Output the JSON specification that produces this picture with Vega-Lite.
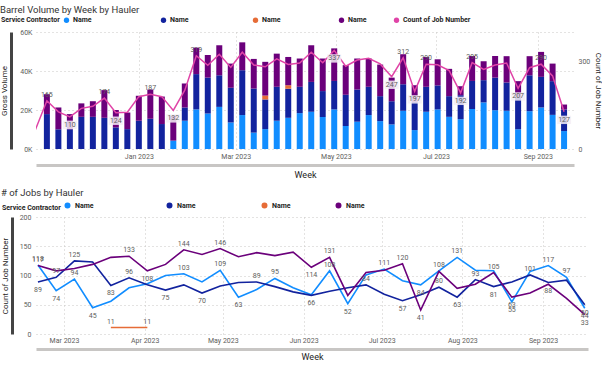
{
  "$schema": "https://vega.github.io/schema/vega-lite/v6.json",
  "padding": {"left": 0, "top": 5, "right": 0, "bottom": 0},
  "background": "white",
  "spacing": 8,
  "resolve": {"scale": {"color": "independent"}, "legend": {"color": "independent"}},
  "datasets": {
    "vol": [
      {"week":"2022-11-06","hauler":"H2","vol":17900},{"week":"2022-11-06","hauler":"H4","vol":10200},
      {"week":"2022-11-13","hauler":"H2","vol":10100},{"week":"2022-11-13","hauler":"H4","vol":11200},
      {"week":"2022-11-20","hauler":"H2","vol":10100},{"week":"2022-11-20","hauler":"H4","vol":7800},
      {"week":"2022-11-27","hauler":"H2","vol":16500},{"week":"2022-11-27","hauler":"H4","vol":6900},
      {"week":"2022-12-04","hauler":"H2","vol":16500},{"week":"2022-12-04","hauler":"H4","vol":8000},
      {"week":"2022-12-11","hauler":"H2","vol":16000},{"week":"2022-12-11","hauler":"H4","vol":14200},
      {"week":"2022-12-18","hauler":"H2","vol":11100},{"week":"2022-12-18","hauler":"H4","vol":8900},
      {"week":"2022-12-25","hauler":"H2","vol":10200},{"week":"2022-12-25","hauler":"H4","vol":8500},
      {"week":"2023-01-01","hauler":"H2","vol":14500},{"week":"2023-01-01","hauler":"H4","vol":12800},
      {"week":"2023-01-08","hauler":"H2","vol":15500},{"week":"2023-01-08","hauler":"H4","vol":15000},
      {"week":"2023-01-15","hauler":"H2","vol":12800},{"week":"2023-01-15","hauler":"H4","vol":14100},
      {"week":"2023-01-22","hauler":"H1","vol":4300},{"week":"2023-01-22","hauler":"H4","vol":12700},
      {"week":"2023-01-29","hauler":"H1","vol":14500},{"week":"2023-01-29","hauler":"H2","vol":6800},{"week":"2023-01-29","hauler":"H4","vol":12300},
      {"week":"2023-02-05","hauler":"H1","vol":20300},{"week":"2023-02-05","hauler":"H2","vol":18100},{"week":"2023-02-05","hauler":"H4","vol":13600},
      {"week":"2023-02-12","hauler":"H1","vol":18200},{"week":"2023-02-12","hauler":"H2","vol":18400},{"week":"2023-02-12","hauler":"H4","vol":11600},
      {"week":"2023-02-19","hauler":"H1","vol":21600},{"week":"2023-02-19","hauler":"H2","vol":16200},{"week":"2023-02-19","hauler":"H4","vol":15400},
      {"week":"2023-02-26","hauler":"H1","vol":13600},{"week":"2023-02-26","hauler":"H2","vol":17800},{"week":"2023-02-26","hauler":"H4","vol":12400},
      {"week":"2023-03-05","hauler":"H1","vol":17400},{"week":"2023-03-05","hauler":"H2","vol":23000},{"week":"2023-03-05","hauler":"H4","vol":14300},
      {"week":"2023-03-12","hauler":"H1","vol":8400},{"week":"2023-03-12","hauler":"H2","vol":22600},{"week":"2023-03-12","hauler":"H4","vol":15200},
      {"week":"2023-03-19","hauler":"H1","vol":10200},{"week":"2023-03-19","hauler":"H2","vol":15200},{"week":"2023-03-19","hauler":"H3","vol":2000},{"week":"2023-03-19","hauler":"H4","vol":17300},
      {"week":"2023-03-26","hauler":"H1","vol":14500},{"week":"2023-03-26","hauler":"H2","vol":17400},{"week":"2023-03-26","hauler":"H4","vol":17000},
      {"week":"2023-04-02","hauler":"H1","vol":16000},{"week":"2023-04-02","hauler":"H2","vol":14900},{"week":"2023-04-02","hauler":"H3","vol":1800},{"week":"2023-04-02","hauler":"H4","vol":14500},
      {"week":"2023-04-09","hauler":"H1","vol":18400},{"week":"2023-04-09","hauler":"H2","vol":13500},{"week":"2023-04-09","hauler":"H4","vol":14500},
      {"week":"2023-04-16","hauler":"H1","vol":19100},{"week":"2023-04-16","hauler":"H2","vol":15300},{"week":"2023-04-16","hauler":"H4","vol":18800},
      {"week":"2023-04-23","hauler":"H1","vol":16400},{"week":"2023-04-23","hauler":"H2","vol":13300},{"week":"2023-04-23","hauler":"H4","vol":16700},
      {"week":"2023-04-30","hauler":"H1","vol":20300},{"week":"2023-04-30","hauler":"H2","vol":14600},{"week":"2023-04-30","hauler":"H4","vol":16700},
      {"week":"2023-05-07","hauler":"H1","vol":11800},{"week":"2023-05-07","hauler":"H2","vol":16000},{"week":"2023-05-07","hauler":"H4","vol":15200},
      {"week":"2023-05-14","hauler":"H1","vol":14000},{"week":"2023-05-14","hauler":"H2","vol":16500},{"week":"2023-05-14","hauler":"H4","vol":15900},
      {"week":"2023-05-21","hauler":"H1","vol":17400},{"week":"2023-05-21","hauler":"H2","vol":14500},{"week":"2023-05-21","hauler":"H4","vol":14500},
      {"week":"2023-05-28","hauler":"H1","vol":14300},{"week":"2023-05-28","hauler":"H2","vol":12800},{"week":"2023-05-28","hauler":"H4","vol":16200},
      {"week":"2023-06-04","hauler":"H1","vol":12600},{"week":"2023-06-04","hauler":"H2","vol":11900},{"week":"2023-06-04","hauler":"H4","vol":12100},
      {"week":"2023-06-11","hauler":"H1","vol":19600},{"week":"2023-06-11","hauler":"H2","vol":13600},{"week":"2023-06-11","hauler":"H4","vol":15400},
      {"week":"2023-06-18","hauler":"H1","vol":9700},{"week":"2023-06-18","hauler":"H2","vol":14500},{"week":"2023-06-18","hauler":"H4","vol":8500},
      {"week":"2023-06-25","hauler":"H1","vol":19100},{"week":"2023-06-25","hauler":"H2","vol":12800},{"week":"2023-06-25","hauler":"H4","vol":15300},
      {"week":"2023-07-02","hauler":"H1","vol":20300},{"week":"2023-07-02","hauler":"H2","vol":12300},{"week":"2023-07-02","hauler":"H4","vol":13400},
      {"week":"2023-07-09","hauler":"H1","vol":16500},{"week":"2023-07-09","hauler":"H2","vol":10600},{"week":"2023-07-09","hauler":"H4","vol":14000},
      {"week":"2023-07-16","hauler":"H1","vol":15300},{"week":"2023-07-16","hauler":"H2","vol":12300},{"week":"2023-07-16","hauler":"H4","vol":4600},
      {"week":"2023-07-23","hauler":"H1","vol":20500},{"week":"2023-07-23","hauler":"H2","vol":14400},{"week":"2023-07-23","hauler":"H4","vol":12800},
      {"week":"2023-07-30","hauler":"H1","vol":23900},{"week":"2023-07-30","hauler":"H2","vol":11400},{"week":"2023-07-30","hauler":"H4","vol":9700},
      {"week":"2023-08-06","hauler":"H1","vol":19900},{"week":"2023-08-06","hauler":"H2","vol":16700},{"week":"2023-08-06","hauler":"H4","vol":11100},
      {"week":"2023-08-13","hauler":"H1","vol":19600},{"week":"2023-08-13","hauler":"H2","vol":14500},{"week":"2023-08-13","hauler":"H4","vol":13500},
      {"week":"2023-08-20","hauler":"H1","vol":10100},{"week":"2023-08-20","hauler":"H2","vol":16300},{"week":"2023-08-20","hauler":"H4","vol":8400},
      {"week":"2023-08-27","hauler":"H1","vol":19400},{"week":"2023-08-27","hauler":"H2","vol":18400},{"week":"2023-08-27","hauler":"H4","vol":9800},
      {"week":"2023-09-03","hauler":"H1","vol":21300},{"week":"2023-09-03","hauler":"H2","vol":15700},{"week":"2023-09-03","hauler":"H4","vol":12800},
      {"week":"2023-09-10","hauler":"H1","vol":17500},{"week":"2023-09-10","hauler":"H2","vol":17300},{"week":"2023-09-10","hauler":"H4","vol":9000},
      {"week":"2023-09-17","hauler":"H1","vol":9200},{"week":"2023-09-17","hauler":"H2","vol":11100},{"week":"2023-09-17","hauler":"H4","vol":2500}
    ],
    "cnt": [
      {"week":"2022-10-30","count":66,"show":0},
      {"week":"2022-11-06","count":165,"show":1},
      {"week":"2022-11-13","count":127,"show":0},
      {"week":"2022-11-20","count":110,"show":1},
      {"week":"2022-11-27","count":139,"show":0},
      {"week":"2022-12-04","count":146,"show":0},
      {"week":"2022-12-11","count":174,"show":1},
      {"week":"2022-12-18","count":124,"show":1},
      {"week":"2022-12-25","count":126,"show":0},
      {"week":"2023-01-01","count":179,"show":0},
      {"week":"2023-01-08","count":187,"show":1},
      {"week":"2023-01-15","count":179,"show":0},
      {"week":"2023-01-22","count":132,"show":1},
      {"week":"2023-01-29","count":201,"show":0},
      {"week":"2023-02-05","count":319,"show":1},
      {"week":"2023-02-12","count":286,"show":0},
      {"week":"2023-02-19","count":324,"show":0},
      {"week":"2023-02-26","count":279,"show":0},
      {"week":"2023-03-05","count":331,"show":0},
      {"week":"2023-03-12","count":287,"show":0},
      {"week":"2023-03-19","count":281,"show":0},
      {"week":"2023-03-26","count":308,"show":0},
      {"week":"2023-04-02","count":289,"show":0},
      {"week":"2023-04-09","count":294,"show":0},
      {"week":"2023-04-16","count":331,"show":0},
      {"week":"2023-04-23","count":295,"show":0},
      {"week":"2023-04-30","count":337,"show":1},
      {"week":"2023-05-07","count":283,"show":0},
      {"week":"2023-05-14","count":304,"show":0},
      {"week":"2023-05-21","count":310,"show":0},
      {"week":"2023-05-28","count":291,"show":0},
      {"week":"2023-06-04","count":247,"show":1},
      {"week":"2023-06-11","count":312,"show":1},
      {"week":"2023-06-18","count":197,"show":1},
      {"week":"2023-06-25","count":290,"show":1},
      {"week":"2023-07-02","count":288,"show":0},
      {"week":"2023-07-09","count":268,"show":0},
      {"week":"2023-07-16","count":192,"show":1},
      {"week":"2023-07-23","count":295,"show":1},
      {"week":"2023-07-30","count":272,"show":0},
      {"week":"2023-08-06","count":287,"show":0},
      {"week":"2023-08-13","count":294,"show":0},
      {"week":"2023-08-20","count":207,"show":1},
      {"week":"2023-08-27","count":278,"show":0},
      {"week":"2023-09-03","count":290,"show":1},
      {"week":"2023-09-10","count":250,"show":0},
      {"week":"2023-09-17","count":127,"show":1}
    ],
    "jobs": [
      {"week":"2023-02-19","hauler":"H1","jobs":118,"show":1},{"week":"2023-02-26","hauler":"H1","jobs":74,"show":1},{"week":"2023-03-05","hauler":"H1","jobs":94,"show":1},{"week":"2023-03-12","hauler":"H1","jobs":45,"show":1},{"week":"2023-03-19","hauler":"H1","jobs":56,"show":0},{"week":"2023-03-26","hauler":"H1","jobs":79,"show":0},{"week":"2023-04-02","hauler":"H1","jobs":86,"show":0},{"week":"2023-04-09","hauler":"H1","jobs":100,"show":0},{"week":"2023-04-16","hauler":"H1","jobs":103,"show":1},{"week":"2023-04-23","hauler":"H1","jobs":89,"show":0},{"week":"2023-04-30","hauler":"H1","jobs":109,"show":1},{"week":"2023-05-07","hauler":"H1","jobs":63,"show":1},{"week":"2023-05-14","hauler":"H1","jobs":76,"show":0},{"week":"2023-05-21","hauler":"H1","jobs":95,"show":1},{"week":"2023-05-28","hauler":"H1","jobs":79,"show":0},{"week":"2023-06-04","hauler":"H1","jobs":67,"show":0},{"week":"2023-06-11","hauler":"H1","jobs":108,"show":1},{"week":"2023-06-18","hauler":"H1","jobs":52,"show":1},{"week":"2023-06-25","hauler":"H1","jobs":101,"show":0},{"week":"2023-07-02","hauler":"H1","jobs":111,"show":1},{"week":"2023-07-09","hauler":"H1","jobs":91,"show":0},{"week":"2023-07-16","hauler":"H1","jobs":84,"show":1},{"week":"2023-07-23","hauler":"H1","jobs":108,"show":1},{"week":"2023-07-30","hauler":"H1","jobs":131,"show":1},{"week":"2023-08-06","hauler":"H1","jobs":109,"show":0},{"week":"2023-08-13","hauler":"H1","jobs":108,"show":0},{"week":"2023-08-20","hauler":"H1","jobs":55,"show":1},{"week":"2023-08-27","hauler":"H1","jobs":107,"show":0},{"week":"2023-09-03","hauler":"H1","jobs":117,"show":1},{"week":"2023-09-10","hauler":"H1","jobs":97,"show":1},{"week":"2023-09-17","hauler":"H1","jobs":44,"show":1},
      {"week":"2023-02-19","hauler":"H2","jobs":89,"show":1},{"week":"2023-02-26","hauler":"H2","jobs":97,"show":1},{"week":"2023-03-05","hauler":"H2","jobs":125,"show":1},{"week":"2023-03-12","hauler":"H2","jobs":123,"show":0},{"week":"2023-03-19","hauler":"H2","jobs":83,"show":1},{"week":"2023-03-26","hauler":"H2","jobs":96,"show":1},{"week":"2023-04-02","hauler":"H2","jobs":84,"show":0},{"week":"2023-04-09","hauler":"H2","jobs":75,"show":1},{"week":"2023-04-16","hauler":"H2","jobs":84,"show":0},{"week":"2023-04-23","hauler":"H2","jobs":70,"show":1},{"week":"2023-04-30","hauler":"H2","jobs":82,"show":0},{"week":"2023-05-07","hauler":"H2","jobs":88,"show":0},{"week":"2023-05-14","hauler":"H2","jobs":89,"show":1},{"week":"2023-05-21","hauler":"H2","jobs":81,"show":0},{"week":"2023-05-28","hauler":"H2","jobs":72,"show":0},{"week":"2023-06-04","hauler":"H2","jobs":66,"show":1},{"week":"2023-06-11","hauler":"H2","jobs":73,"show":0},{"week":"2023-06-18","hauler":"H2","jobs":79,"show":0},{"week":"2023-06-25","hauler":"H2","jobs":84,"show":1},{"week":"2023-07-02","hauler":"H2","jobs":68,"show":0},{"week":"2023-07-09","hauler":"H2","jobs":57,"show":1},{"week":"2023-07-16","hauler":"H2","jobs":67,"show":0},{"week":"2023-07-23","hauler":"H2","jobs":80,"show":1},{"week":"2023-07-30","hauler":"H2","jobs":63,"show":1},{"week":"2023-08-06","hauler":"H2","jobs":93,"show":1},{"week":"2023-08-13","hauler":"H2","jobs":81,"show":1},{"week":"2023-08-20","hauler":"H2","jobs":89,"show":0},{"week":"2023-08-27","hauler":"H2","jobs":101,"show":1},{"week":"2023-09-03","hauler":"H2","jobs":88,"show":1},{"week":"2023-09-10","hauler":"H2","jobs":92,"show":0},{"week":"2023-09-17","hauler":"H2","jobs":50,"show":1},
      {"week":"2023-03-19","hauler":"H3","jobs":11,"show":1},{"week":"2023-04-02","hauler":"H3","jobs":11,"show":1},
      {"week":"2023-02-19","hauler":"H4","jobs":117,"show":1},{"week":"2023-02-26","hauler":"H4","jobs":108,"show":0},{"week":"2023-03-05","hauler":"H4","jobs":112,"show":0},{"week":"2023-03-12","hauler":"H4","jobs":119,"show":0},{"week":"2023-03-19","hauler":"H4","jobs":131,"show":0},{"week":"2023-03-26","hauler":"H4","jobs":133,"show":1},{"week":"2023-04-02","hauler":"H4","jobs":108,"show":1},{"week":"2023-04-09","hauler":"H4","jobs":119,"show":0},{"week":"2023-04-16","hauler":"H4","jobs":144,"show":1},{"week":"2023-04-23","hauler":"H4","jobs":136,"show":0},{"week":"2023-04-30","hauler":"H4","jobs":146,"show":1},{"week":"2023-05-07","hauler":"H4","jobs":132,"show":0},{"week":"2023-05-14","hauler":"H4","jobs":139,"show":0},{"week":"2023-05-21","hauler":"H4","jobs":134,"show":0},{"week":"2023-05-28","hauler":"H4","jobs":140,"show":0},{"week":"2023-06-04","hauler":"H4","jobs":114,"show":1},{"week":"2023-06-11","hauler":"H4","jobs":131,"show":1},{"week":"2023-06-18","hauler":"H4","jobs":66,"show":0},{"week":"2023-06-25","hauler":"H4","jobs":105,"show":0},{"week":"2023-07-02","hauler":"H4","jobs":109,"show":0},{"week":"2023-07-09","hauler":"H4","jobs":120,"show":1},{"week":"2023-07-16","hauler":"H4","jobs":41,"show":1},{"week":"2023-07-23","hauler":"H4","jobs":107,"show":0},{"week":"2023-07-30","hauler":"H4","jobs":78,"show":0},{"week":"2023-08-06","hauler":"H4","jobs":85,"show":0},{"week":"2023-08-13","hauler":"H4","jobs":105,"show":1},{"week":"2023-08-20","hauler":"H4","jobs":63,"show":1},{"week":"2023-08-27","hauler":"H4","jobs":70,"show":0},{"week":"2023-09-03","hauler":"H4","jobs":85,"show":0},{"week":"2023-09-10","hauler":"H4","jobs":61,"show":0},{"week":"2023-09-17","hauler":"H4","jobs":33,"show":1}
    ]
  },
  "vconcat": [
    {
      "width": 538,
      "height": 117,
      "title": {"text": "Barrel Volume by Week by Hauler", "anchor": "start", "frame": "bounds", "fontSize": 9.5, "fontWeight": "normal", "color": "#333333", "offset": 2},
      "encoding": {
        "x": {"field": "week", "type": "temporal",
          "scale": {"type": "utc", "domain": [{"year": 2022, "month": 11, "date": 2, "hours": 10, "utc": true}, {"year": 2023, "month": 9, "date": 20, "utc": true}]},
          "axis": {"title": "Week", "values": [{"year": 2023, "month": 1, "date": 1, "utc": true}, {"year": 2023, "month": 3, "date": 1, "utc": true}, {"year": 2023, "month": 5, "date": 1, "utc": true}, {"year": 2023, "month": 7, "date": 1, "utc": true}, {"year": 2023, "month": 9, "date": 1, "utc": true}],
            "labelExpr": "utcFormat(datum.value, '%b %Y')", "grid": true, "gridDash": [1, 3], "gridColor": "#C8C6C4", "ticks": false,
            "domain": true, "domainColor": "#C8C6C4", "domainWidth": 3, "offset": 16, "labelPadding": -13, "labelBaseline": "top", "titlePadding": 5}
        }
      },
      "layer": [
        {
          "data": {"name": "vol"},
          "mark": {"type": "bar", "width": 6},
          "encoding": {
            "y": {"field": "vol", "type": "quantitative", "stack": "zero", "scale": {"domain": [0, 60000]},
              "axis": {"title": "Gross Volume", "values": [0, 20000, 40000, 60000], "labelExpr": "(datum.value / 1000) + 'K'", "grid": true, "gridDash": [1, 3], "gridColor": "#C8C6C4", "ticks": false, "domain": true, "domainColor": "#444444", "domainWidth": 3, "offset": 25, "labelPadding": -21, "titlePadding": 3}},
            "color": {"field": "hauler", "type": "nominal",
              "scale": {"domain": ["H1", "H2", "H3", "H4", "Count of Job Number"], "range": ["#118DFF", "#12239E", "#E66C37", "#6B007B", "#E044A7"]},
              "legend": {"title": "Service Contractor", "orient": "none", "legendX": -35, "legendY": -15.5, "direction": "horizontal", "titleOrient": "left",
                "titleFontSize": 7, "titleFontWeight": "bold", "titleColor": "#252423", "labelFontSize": 7, "labelFontWeight": "bold", "labelColor": "#252423",
                "symbolType": "circle", "symbolSize": 28, "symbolStrokeWidth": 0, "columnPadding": 0, "labelOffset": 3, "titlePadding": 3, "labelLimit": 300,
                "labelExpr": "datum.label == 'H1' ? pad('Name', 43, '\u00a0') + '\u200b' : datum.label == 'H2' ? pad('Name', 40, '\u00a0') + '\u200b' : datum.label == 'H3' ? pad('Name', 37, '\u00a0') + '\u200b' : datum.label == 'H4' ? pad('Name', 19, '\u00a0') + '\u200b' : datum.label"}},
            "order": {"field": "hauler", "sort": "ascending"}
          }
        },
        {
          "data": {"name": "cnt"},
          "layer": [
            {
              "mark": {"type": "line", "strokeWidth": 1.5, "clip": true},
              "encoding": {
                "y": {"field": "count", "type": "quantitative", "scale": {"domain": [0, 351]},
                  "axis": {"title": "Count of Job Number", "orient": "right", "values": [0, 100, 200, 300], "grid": false, "ticks": false, "domain": false, "labelPadding": 4, "titlePadding": 4}},
                "color": {"datum": "Count of Job Number", "type": "nominal"}
              }
            },
            {
              "transform": [
                {"window": [{"op": "lag", "field": "count", "as": "prev"}, {"op": "lead", "field": "count", "as": "next"}], "sort": [{"field": "week", "order": "ascending"}]},
                {"filter": "datum.show == 1"},
                {"calculate": "((datum.prev == null || datum.count < datum.prev) && (datum.next == null || datum.count < datum.next)) || datum.count > 330", "as": "below"}
              ],
              "layer": [
                {
                  "transform": [{"filter": "!datum.below"}],
                  "mark": {"type": "text", "dy": -6, "fontSize": 7, "color": "#605E5C"},
                  "encoding": {"y": {"field": "count", "type": "quantitative"}, "text": {"field": "count", "type": "quantitative"}}
                },
                {
                  "transform": [{"filter": "datum.below"}],
                  "mark": {"type": "point", "shape": "M-1,-0.6H1V0.6H-1Z", "size": 196, "filled": true, "fill": "#F4EEF6", "opacity": 0.85, "stroke": null, "yOffset": 8},
                  "encoding": {"y": {"field": "count", "type": "quantitative"}}
                },
                {
                  "transform": [{"filter": "datum.below"}],
                  "mark": {"type": "text", "dy": 8, "fontSize": 7, "color": "#605E5C"},
                  "encoding": {"y": {"field": "count", "type": "quantitative"}, "text": {"field": "count", "type": "quantitative"}}
                }
              ]
            }
          ]
        }
      ],
      "resolve": {"scale": {"y": "independent"}}
    },
    {
      "width": 552,
      "height": 117,
      "title": {"text": "# of Jobs by Hauler", "anchor": "start", "frame": "bounds", "fontSize": 9.5, "fontWeight": "normal", "color": "#333333", "offset": 5},
      "data": {"name": "jobs"},
      "encoding": {
        "x": {"field": "week", "type": "temporal",
          "scale": {"type": "utc", "domain": [{"year": 2023, "month": 2, "date": 18, "hours": 6, "utc": true}, {"year": 2023, "month": 9, "date": 18, "hours": 6, "utc": true}]},
          "axis": {"title": "Week", "values": [{"year": 2023, "month": 3, "date": 1, "utc": true}, {"year": 2023, "month": 4, "date": 1, "utc": true}, {"year": 2023, "month": 5, "date": 1, "utc": true}, {"year": 2023, "month": 6, "date": 1, "utc": true}, {"year": 2023, "month": 7, "date": 1, "utc": true}, {"year": 2023, "month": 8, "date": 1, "utc": true}, {"year": 2023, "month": 9, "date": 1, "utc": true}],
            "labelExpr": "utcFormat(datum.value, '%b %Y')", "grid": true, "gridDash": [1, 3], "gridColor": "#C8C6C4", "ticks": false,
            "domain": true, "domainColor": "#C8C6C4", "domainWidth": 3, "offset": 15, "labelPadding": -12.5, "labelBaseline": "top", "titlePadding": 3}
        },
        "y": {"field": "jobs", "type": "quantitative", "scale": {"domain": [0, 200]},
          "axis": {"title": "Count of Job Number", "values": [0, 50, 100, 150, 200], "grid": true, "gridDash": [1, 3], "gridColor": "#C8C6C4", "ticks": false, "domain": true, "domainColor": "#444444", "domainWidth": 3, "offset": 24, "labelPadding": -19, "titlePadding": 3}}
      },
      "layer": [
        {
          "mark": {"type": "line", "strokeWidth": 1.6},
          "encoding": {
            "color": {"field": "hauler", "type": "nominal",
              "scale": {"domain": ["H1", "H2", "H3", "H4"], "range": ["#118DFF", "#12239E", "#E66C37", "#6B007B"]},
              "legend": {"title": "Service Contractor", "orient": "none", "legendX": -34, "legendY": -15, "direction": "horizontal", "titleOrient": "left",
                "titleFontSize": 7, "titleFontWeight": "bold", "titleColor": "#252423", "labelFontSize": 7, "labelFontWeight": "bold", "labelColor": "#252423",
                "symbolType": "circle", "symbolSize": 9, "symbolStrokeWidth": 3, "columnPadding": 0, "labelOffset": 4, "titlePadding": 3, "labelLimit": 300,
                "labelExpr": "datum.label == 'H1' ? pad('Name', 43, '\u00a0') + '\u200b' : datum.label == 'H2' ? pad('Name', 39, '\u00a0') + '\u200b' : datum.label == 'H3' ? pad('Name', 27, '\u00a0') + '\u200b' : 'Name'"}}
          }
        },
        {
          "transform": [
            {"window": [{"op": "lag", "field": "jobs", "as": "prev"}, {"op": "lead", "field": "jobs", "as": "next"}], "groupby": ["hauler"], "sort": [{"field": "week", "order": "ascending"}]},
            {"filter": "datum.show == 1"},
            {"calculate": "(datum.prev == null || datum.jobs < datum.prev) && (datum.next == null || datum.jobs < datum.next)", "as": "below"}
          ],
          "layer": [
            {
              "transform": [{"filter": "!datum.below"}],
              "mark": {"type": "text", "dy": -6, "fontSize": 7, "color": "#605E5C"},
              "encoding": {"text": {"field": "jobs", "type": "quantitative"}}
            },
            {
              "transform": [{"filter": "datum.below"}],
              "mark": {"type": "text", "dy": 8, "fontSize": 7, "color": "#605E5C"},
              "encoding": {"text": {"field": "jobs", "type": "quantitative"}}
            }
          ]
        }
      ]
    }
  ],
  "config": {
    "font": "Roboto",
    "view": {"stroke": null},
    "axis": {"labelFontSize": 7, "labelColor": "#605E5C", "titleFontSize": 8, "titleFontWeight": "normal", "titleColor": "#252423"},
    "axisX": {"titleFontSize": 9}
  }
}
